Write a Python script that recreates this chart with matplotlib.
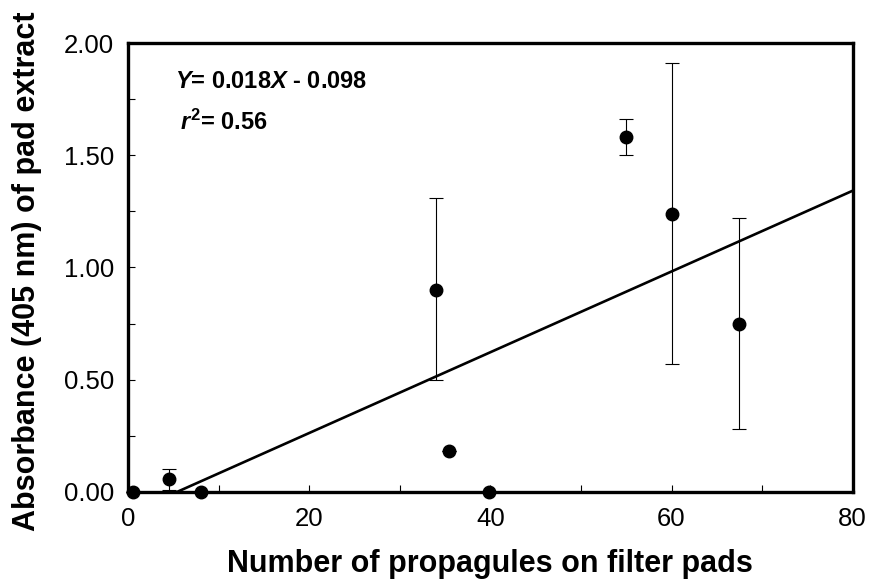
import numpy as np
import matplotlib
matplotlib.use("Agg")
import matplotlib.pyplot as plt
from matplotlib.ticker import MultipleLocator

plt.rcParams['font.family'] = ['Liberation Sans', 'DejaVu Sans']
plt.rcParams['mathtext.fontset'] = 'custom'
plt.rcParams['mathtext.rm'] = 'Liberation Sans:bold'
plt.rcParams['mathtext.bf'] = 'Liberation Sans:bold'
plt.rcParams['mathtext.it'] = 'Liberation Sans:bold:italic'
plt.rcParams['mathtext.bfit'] = 'Liberation Sans:bold:italic'

# data
propagules = [0.5, 4.5, 8.1, 34.0, 35.4, 39.9, 55.0, 60.0, 67.5]
absorbance = [0.00, 0.055, 0.00, 0.90, 0.18, 0.00, 1.58, 1.24, 0.75]
err_low = [0.0, 0.045, 0.0, 0.40, 0.0, 0.0, 0.08, 0.67, 0.47]
err_high = [0.0, 0.045, 0.0, 0.41, 0.0, 0.0, 0.08, 0.67, 0.47]
slope, intercept = 0.018, -0.098

fig = plt.figure(figsize=(8.71, 5.82), dpi=100)
ax = fig.add_axes([0.147, 0.155, 0.832, 0.771])

ax.errorbar(propagules, absorbance, yerr=[err_low, err_high], fmt='o',
            color='black', markersize=9, elinewidth=0.8, capsize=5,
            capthick=0.8, clip_on=False, zorder=3)

x0 = -intercept / slope
xfit = np.array([x0, 80])
ax.plot(xfit, slope * xfit + intercept, color='black', lw=1.9, zorder=2)

ax.set_xlim(0, 80)
ax.set_ylim(0, 2)
ax.xaxis.set_major_locator(MultipleLocator(20))
ax.xaxis.set_minor_locator(MultipleLocator(10))
ax.yaxis.set_major_locator(MultipleLocator(0.5))
ax.yaxis.set_minor_locator(MultipleLocator(0.25))
ax.yaxis.set_major_formatter(plt.FormatStrFormatter('%.2f'))
ax.tick_params(which='both', direction='in', length=5, width=0.8,
               top=False, right=False, labelsize=18.5)
ax.tick_params(axis='x', pad=11)
ax.tick_params(axis='y', pad=10)
for s in ax.spines.values():
    s.set_linewidth(2.4)

fig.text(489.5 / 871, 1 - 564 / 582, 'Number of propagules on filter pads',
         fontsize=22, fontweight='bold', ha='center', va='center')
fig.text(27 / 871, 1 - 271.5 / 582, 'Absorbance (405 nm) of pad extract',
         fontsize=22, fontweight='bold', ha='center', va='center',
         rotation=90)

ax.text(175 / 871, 1 - 82 / 582, r'$Y$= 0.018$X$ - 0.098',
        transform=fig.transFigure, fontsize=17, fontweight='bold',
        va='center')
ax.text(180 / 871, 1 - 122 / 582, r'$r^{\mathrm{2}}$= 0.56',
        transform=fig.transFigure, fontsize=17, fontweight='bold',
        va='center')

fig.savefig('out.png', dpi=100)
